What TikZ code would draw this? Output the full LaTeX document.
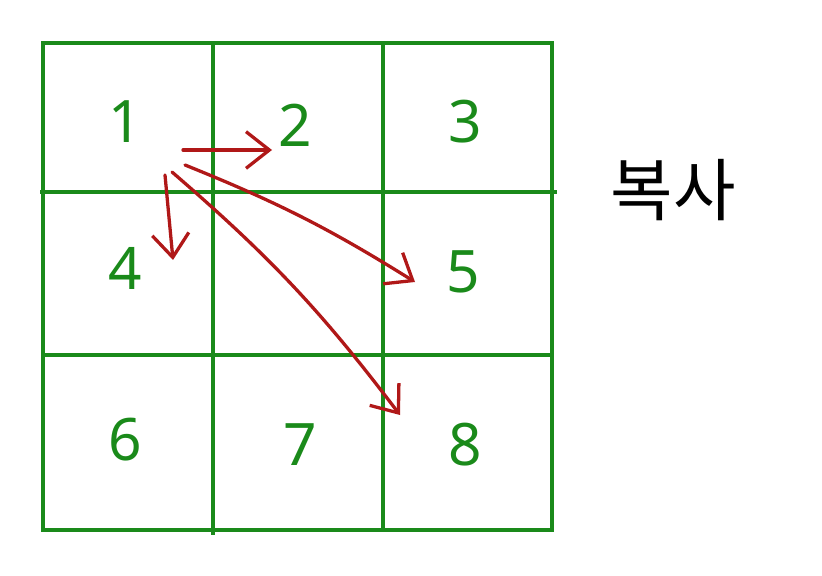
\documentclass[tikz,border=0pt]{standalone}
\usepackage{fontspec}
\setmainfont{Noto Sans}
\newfontfamily\kofont{Noto Sans CJK KR}
\usepackage{xcolor}
\usetikzlibrary{calc,arrows.meta}
\definecolor{gridgreen}{HTML}{1A8A1A}
\definecolor{copyred}{HTML}{B01818}
\tikzset{
    gridline/.style={draw=gridgreen, line width=3pt},
    num/.style={text=gridgreen, font=\fontsize{50}{50}\selectfont},
    copyarrow/.style={draw=copyred, line width=2.8pt, line cap=round,
        -{Straight Barb[length=7mm, width=11mm, line width=2.8pt]}}
}

\begin{document}
\begin{tikzpicture}[x=0.3mm, y=-0.3mm]
    \useasboundingbox (0,0) rectangle (822,576);
    % grid
    \draw[gridline] (43,43) rectangle (552,530);
    \draw[gridline] (213,42) -- (213,535);
    \draw[gridline] (383,43) -- (383,530);
    \draw[gridline] (40,192) -- (557,192);
    \draw[gridline] (43,355) -- (552,355);

    \node[num] (n1) at (125,122) {1};
    \node[num] (n2) at (295,125) {2};
    \node[num] (n3) at (465,122) {3};
    \node[num] (n4) at (125,268) {4};
    \node[num] (n5) at (463,272) {5};
    \node[num] (n6) at (125,440) {6};
    \node[num] (n7) at (300,445) {7};
    \node[num] (n8) at (465,445) {8};

    \node[font=\kofont\fontsize{58}{58}\selectfont] (copy) at (673,190) {복사};

    % copies out of cell 1
    \draw[copyarrow] ($(n1)+(58,28)$) -- ($(n2)+(-23,25)$);
    \draw[copyarrow] ($(n1)+(40,53)$) -- ($(n4)+(48,-8)$);
    \draw[copyarrow] ($(n1)+(60,43)$) to[bend left=5] ($(n5)+(-48,10)$);
    \draw[copyarrow] ($(n1)+(47,50)$) to[bend left=6] ($(n8)+(-65,-30)$);
\end{tikzpicture}
\end{document}
